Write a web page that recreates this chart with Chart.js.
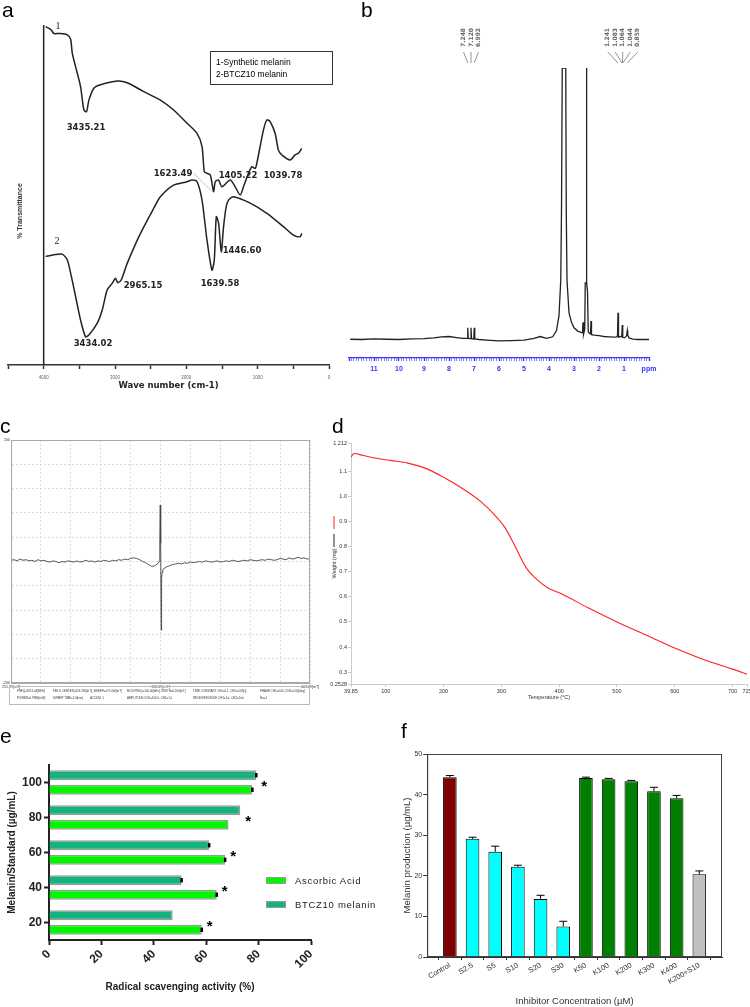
<!DOCTYPE html>
<html>
<head>
<meta charset="utf-8">
<title>Melanin characterisation</title>
<script src="https://cdn.jsdelivr.net/npm/chart.js@4.4.1/dist/chart.umd.min.js"></script>
<style>
  html, body { margin: 0; padding: 0; background: #fff; }
  body { position: relative; width: 750px; height: 1007px; overflow: hidden; font-family: "Liberation Sans", Arial, sans-serif; color: #000; }
  canvas { position: absolute; }
  .tag { position: absolute; font-size: 21px; line-height: 21px; }
  .pk { position: absolute; transform: translate(-50%, -50%); white-space: nowrap; font: bold 8.5px "DejaVu Sans", sans-serif; color: #222; }
  .num { position: absolute; transform: translate(-50%, -50%); font: 10px "Liberation Serif", serif; color: #222; }
  .ftir-legend { position: absolute; left: 210px; top: 51px; width: 123px; height: 34px; border: 1px solid #333; font-size: 8.5px; line-height: 12px; padding: 4px 0 0 5px; box-sizing: border-box; }
  .rot { position: absolute; transform: translate(-50%, -50%) rotate(-90deg); white-space: nowrap; }
  .esr-info { position: absolute; left: 9px; top: 686px; width: 301px; height: 19px; border: 1px solid #bbb; box-sizing: border-box; font-size: 2.9px; line-height: 6px; color: #333; }
  .esr-info span { position: absolute; white-space: nowrap; }
  .leg-e { position: absolute; font-size: 9.5px; letter-spacing: 0.7px; color: #222; }
  .sw { position: absolute; width: 18px; height: 5px; border: 1.5px solid #9a9a9a; }
</style>
</head>
<body>
<canvas id="chart-a" width="345" height="400" style="left:0;top:0"></canvas>
<canvas id="chart-b" width="405" height="400" style="left:345px;top:0"></canvas>
<canvas id="chart-c" width="340" height="310" style="left:0;top:400px"></canvas>
<canvas id="chart-d" width="440" height="310" style="left:320px;top:400px"></canvas>
<canvas id="chart-e" width="375" height="297" style="left:0;top:710px"></canvas>
<canvas id="chart-f" width="375" height="297" style="left:375px;top:710px"></canvas>

<div class="tag" style="left:2px;top:-1px">a</div>
<div class="tag" style="left:361px;top:-1px">b</div>
<div class="tag" style="left:0;top:415px">c</div>
<div class="tag" style="left:332px;top:415px">d</div>
<div class="tag" style="left:0;top:725px">e</div>
<div class="tag" style="left:401px;top:720px">f</div>

<div class="num" style="left:58px;top:25px">1</div>
<div class="num" style="left:57px;top:240px">2</div>
<div class="pk" style="left:86px;top:127px">3435.21</div>
<div class="pk" style="left:173px;top:173px">1623.49</div>
<div class="pk" style="left:238px;top:175px">1405.22</div>
<div class="pk" style="left:283px;top:175px">1039.78</div>
<div class="pk" style="left:242px;top:250px">1446.60</div>
<div class="pk" style="left:143px;top:285px">2965.15</div>
<div class="pk" style="left:220px;top:283px">1639.58</div>
<div class="pk" style="left:93px;top:343px">3434.02</div>
<div class="ftir-legend">1-Synthetic melanin<br>2-BTCZ10 melanin</div>
<div class="rot" style="left:19px;top:211px;font-size:7px;font-weight:bold;color:#333">% Transmittance</div>

<div class="esr-info">
  <span style="left:7px;top:1px">FREQ=9213.04[MHz]</span>
  <span style="left:43px;top:1px">FIELD CENTER=326.290[mT], SWEEP=±75.000[mT]</span>
  <span style="left:117px;top:1px">MOD FREQ=100.00[kHz], WIDTH=0.200[mT]</span>
  <span style="left:183px;top:1px">TIME CONSTANT CH1=0.1, CH2=0.03[s]</span>
  <span style="left:250px;top:1px">PHASE CH1=0.00, CH2=0.00[deg]</span>
  <span style="left:7px;top:8px">POWER=0.9980[mW]</span>
  <span style="left:43px;top:8px">SWEEP TIME=2.0[min]</span>
  <span style="left:80px;top:8px">ACCUM: 1</span>
  <span style="left:117px;top:8px">AMPLITUDE CH1=100.0, CH2=1.0</span>
  <span style="left:183px;top:8px">RECEIVER MODE CH1=1st, CH2=2nd</span>
  <span style="left:250px;top:8px">No=1</span>
</div>

<div class="sw" id="sw-asc" style="left:266px;top:877px"></div>
<div class="leg-e" style="left:295px;top:875px">Ascorbic Acid</div>
<div class="sw" id="sw-btcz" style="left:266px;top:901px"></div>
<div class="leg-e" style="left:295px;top:899px">BTCZ10 melanin</div>

<script>
// a - FTIR (wave number cm-1, % transmittance in arbitrary 0-100 units)
const FTIR_WN_1 = [3972,3902,3856,3786,3669,3622,3599,3552,3483,3436,3399,3366,3296,3203,2969,2829,2597,2364,2178,1990,1850,1780,1748,1711,1664,1618,1594,1548,1501,1385,1315,1245,1199,1129,1082,1035,1012,919,871,825,755,709,662,545,476,429,382];
const FTIR_T_1 = [99.5,98.7,97.5,97.5,97.1,95.8,91.7,87.7,81.9,75.0,74.5,77.9,81.4,82.4,83.5,83.0,80.4,77.9,75.0,71.1,68.1,64.2,56.9,56.4,55.9,51.0,53.9,54.4,52.4,54.4,52.4,50.0,52.4,56.4,58.3,57.8,59.3,69.1,72.1,71.6,68.1,63.2,61.8,60.3,61.8,62.3,63.7];
const FTIR_WN_2 = [3972,3856,3739,3669,3622,3552,3483,3413,3366,3249,3179,3109,3039,2993,2961,2913,2829,2643,2457,2364,2178,1990,1920,1850,1780,1711,1641,1608,1580,1548,1510,1478,1441,1408,1338,1105,871,639,499,406,382];
const FTIR_T_2 = [31.9,32.4,32.6,30.9,27.0,20.1,13.2,8.3,8.8,12.3,16.2,22.1,24.0,25.5,24.2,25.0,29.9,38.7,46.1,49.5,52.9,53.9,54.4,53.9,48.5,36.8,27.9,30.9,43.6,41.7,33.3,40.7,46.6,48.5,49.5,47.6,44.6,40.7,38.2,37.7,38.7];
const FTIR_TICKS = [4500,4000,3500,3000,2500,2000,1500,1000,500,0];

// b - 1H NMR
const NMR_PPM = [11.95,11.5,11,10.5,10,9.5,9,8.6,8.3,8.0,7.7,7.45,7.27,7.25,7.23,7.14,7.12,7.10,7.01,6.99,6.97,6.8,6.5,6.0,5.5,5.0,4.6,4.35,4.1,3.85,3.7,3.6,3.53,3.5,3.47,3.45,3.33,3.31,3.28,3.2,3.1,3.0,2.85,2.72,2.66,2.64,2.62,2.57,2.55,2.51,2.50,2.49,2.46,2.43,2.38,2.34,2.32,2.30,2.2,2.0,1.8,1.6,1.4,1.3,1.26,1.24,1.22,1.15,1.09,1.07,1.05,0.98,0.9,0.87,0.85,0.8,0.65,0.45,0.25,0.0];
const NMR_INT = [0.3,0.2,0.4,0.3,0.2,0.4,0.5,0.8,1.2,1.3,0.9,0.6,0.6,4.5,0.6,0.5,4.5,0.5,0.4,4.5,0.4,0.2,0,-0.3,-0.2,0,0.6,1.3,0.6,1.2,3.5,9,22,48,100,100,100,48,22,10,6.5,4.5,3.3,2.8,2.7,6.5,2,4,21,21,100,21,18,3,2.4,2.3,7,2,1.8,1.6,1.3,1.2,1.1,1.2,1.5,10,1.0,1.3,1.2,5.5,1.0,0.8,1.5,3.5,1.8,0.8,0.3,0.2,0.2,0.2];
const NMR_MAJOR = [11,10,9,8,7,6,5,4,3,2,1];
const NMR_PEAKS_AR = [7.248,7.120,6.992];
const NMR_PEAKS_AL = [1.241,1.083,1.064,1.044,0.859];

// c - ESR
const ESR_FIELD = [0,1,2,3,4,5,6,7,8,9,10,11,12,13,14,15,16,17,18,19,20,21,22,23,24,25,26,27,28,29,30,31,32,33,34,35,36,37,38,39,40,41,42,43,44,45,46,47,48,49,49.5,49.75,49.9,50.05,50.2,50.35,50.5,50.75,51,52,53,54,55,56,57,58,59,60,61,62,63,64,65,66,67,68,69,70,71,72,73,74,75,76,77,78,79,80,81,82,83,84,85,86,87,88,89,90,91,92,93,94,95,96,97,98,99,100];
const ESR_SIGNAL = [2,3,1,4,2,3,1,2,0,3,1,2,0,-1,1,0,-2,0,-1,1,0,-1,1,-1,0,2,0,1,-1,1,0,2,1,0,2,1,3,2,4,3,5,6,5,3,0,-2,-5,-8,-7,-4,0,40,93,30,-113,-30,-18,-14,-12,-9,-7,-5,-4,-3,-4,-2,-3,-1,-2,-1,0,-1,1,0,-1,0,1,-1,0,1,0,2,1,0,1,2,1,3,2,1,2,3,2,4,3,2,3,5,4,3,6,4,5,7,5,6,4,5];
const ESR_X_TICKS = [0,10,20,30,40,50,60,70,80,90,100];
const ESR_X_LABELS = { 0: '251.29[mT]', 50: '326.29[mT]', 100: '401.29[mT]' };
const ESR_Y_TICKS = [-200,-160,-120,-80,-40,0,40,80,120,160,200];

// d - TGA
const TGA_TEMP = [39.85,45,60,81,110,138,168,203,232,266,289,306,323,336,344,358,380,404,450,500,554,600,657,700,725];
const TGA_WEIGHT = [1.156,1.170,1.163,1.152,1.142,1.132,1.112,1.072,1.032,0.976,0.924,0.876,0.804,0.744,0.712,0.676,0.636,0.612,0.556,0.500,0.444,0.396,0.344,0.312,0.292];
const TGA_X_TICKS = [39.85,100,200,300,400,500,600,700,725];
const TGA_Y_TICKS = [0.2528,0.3,0.4,0.5,0.6,0.7,0.8,0.9,1.0,1.1,1.212];
const TGA_Y_LABELS = ['0.2528','0.3','0.4','0.5','0.6','0.7','0.8','0.9','1.0','1.1','1.212'];

// e - DPPH radical scavenging
const E_CONC = ['100','80','60','40','20'];
const E_BTCZ = [79.1,73.0,61.1,50.6,47.2];
const E_ASC = [77.6,68.5,67.2,64.0,58.3];
const E_BTCZ_ERR = [0.5,0,0.5,0.5,0];
const E_ASC_ERR = [0.5,0,0.5,0.5,0.5];
const E_TICKS = [0,20,40,60,80,100];

// f - melanin production with inhibitors
const F_CATS = ['Control','S2.5','S5','S10','S20','S30','K50','K100','K200','K300','K400','K200+S10'];
const F_MEAN = [44.3,29.1,25.9,22.2,14.3,7.5,44.1,43.8,43.3,40.8,39.1,20.4];
const F_ERR = [0.4,0.4,1.4,0.4,0.9,1.3,0.2,0.2,0.2,1.0,0.7,0.8];

const COL = {
  maroon: '#7f0000', cyan: '#00ffff', kgreen: '#007f00', grey: '#c0c0c0',
  asc: '#00f700', btcz: '#13b27f', barEdge: '#9a9a9a', nmr: '#3333ff', tga: '#ff2020',
};
const F_COLORS = [COL.maroon, COL.cyan, COL.cyan, COL.cyan, COL.cyan, COL.cyan,
  COL.kgreen, COL.kgreen, COL.kgreen, COL.kgreen, COL.kgreen, COL.grey];

document.getElementById('sw-asc').style.background = COL.asc;
document.getElementById('sw-btcz').style.background = COL.btcz;

Chart.defaults.font.family = '"Liberation Sans", Arial, sans-serif';
Chart.defaults.color = '#000';
Chart.defaults.animation = false;
Chart.defaults.responsive = false;
Chart.defaults.plugins.legend.display = false;
Chart.defaults.plugins.tooltip.enabled = false;

const pts = (xs, ys) => xs.map((x, i) => ({ x, y: ys[i] }));
const fixTicks = list => scale => { scale.ticks = list.map(v => ({ value: v })); };

// ---------- a ----------
const ftirExtras = {
  id: 'ftirExtras',
  afterDatasetsDraw(chart) {
    const { ctx, chartArea, scales: { x, y } } = chart;
    const x0 = x.getPixelForValue(4000);
    ctx.save();
    ctx.strokeStyle = '#222';
    ctx.lineWidth = 1.5;
    ctx.beginPath(); ctx.moveTo(x0, chartArea.top); ctx.lineTo(x0, chartArea.bottom); ctx.stroke();
    ctx.strokeStyle = '#aaa';
    ctx.lineWidth = 0.7;
    ctx.beginPath();
    ctx.moveTo(x.getPixelForValue(1900), y.getPixelForValue(56.5));
    ctx.lineTo(x.getPixelForValue(1640), y.getPixelForValue(51));
    ctx.stroke();
    ctx.restore();
  }
};

new Chart(document.getElementById('chart-a'), {
  type: 'line',
  data: {
    datasets: [
      { data: pts(FTIR_WN_1, FTIR_T_1), borderColor: '#222', borderWidth: 1.5, pointRadius: 0, tension: 0.25 },
      { data: pts(FTIR_WN_2, FTIR_T_2), borderColor: '#222', borderWidth: 1.5, pointRadius: 0, tension: 0.25 },
    ]
  },
  options: {
    layout: { padding: { left: 8, right: 16, top: 25, bottom: 0 } },
    scales: {
      x: {
        type: 'linear', reverse: true, min: 0, max: 4500,
        afterBuildTicks: fixTicks(FTIR_TICKS),
        afterFit: s => { s.height = 35; },
        ticks: { callback: v => (v % 1000 === 0 ? String(v) : ''), font: { size: 4.5 }, color: '#666', maxRotation: 0, autoSkip: false, padding: 6 },
        grid: { drawOnChartArea: false, tickLength: 4, tickColor: '#333', tickWidth: 1.5 },
        border: { color: '#333', width: 1.5 },
        title: { display: true, text: 'Wave number (cm-1)', color: '#222', font: { family: '"DejaVu Sans"', size: 8.5, weight: 'bold' }, padding: { top: 0, bottom: 9 } },
      },
      y: { display: false, min: 0, max: 100 },
    }
  },
  plugins: [ftirExtras],
});

// ---------- b ----------
const nmrLabels = {
  id: 'nmrLabels',
  afterDraw(chart) {
    const { ctx, scales: { x } } = chart;
    ctx.save();
    ctx.fillStyle = '#666';
    ctx.strokeStyle = '#777';
    ctx.lineWidth = 0.8;
    ctx.font = 'bold 6px "DejaVu Sans"';
    [NMR_PEAKS_AR, NMR_PEAKS_AL].forEach(group => {
      const xs = group.map(p => x.getPixelForValue(p));
      const mid = (xs[0] + xs[xs.length - 1]) / 2;
      group.forEach((p, i) => {
        const lx = mid + (i - (group.length - 1) / 2) * 7.5;
        ctx.beginPath(); ctx.moveTo(lx, 52); ctx.lineTo(xs[i], 63); ctx.stroke();
        ctx.save();
        ctx.translate(lx, 47);
        ctx.rotate(-Math.PI / 2);
        ctx.textAlign = 'left';
        ctx.textBaseline = 'middle';
        ctx.fillText(p.toFixed(3), 0, 0);
        ctx.restore();
      });
    });
    ctx.restore();
  }
};

const nmrTicks = [];
for (let t = 0; t <= 120; t++) nmrTicks.push(t / 10);

new Chart(document.getElementById('chart-b'), {
  type: 'line',
  data: { datasets: [{ data: pts(NMR_PPM, NMR_INT), borderColor: '#222', borderWidth: 1.3, pointRadius: 0, tension: 0 }] },
  options: {
    layout: { padding: { left: 4, right: 101, top: 68, bottom: 0 } },
    scales: {
      x: {
        type: 'linear', reverse: true, min: 0, max: 12,
        afterBuildTicks: fixTicks(nmrTicks),
        afterFit: s => { s.height = 42; },
        ticks: {
          autoSkip: false, maxRotation: 0, padding: 4, color: COL.nmr,
          font: { size: 7, weight: 'bold' },
          callback: v => {
            if (Math.abs(v) < 1e-6) return 'ppm';
            const r = Math.round(v);
            return Math.abs(v - r) < 1e-6 && NMR_MAJOR.includes(r) ? String(r) : '';
          }
        },
        grid: {
          drawOnChartArea: false, tickLength: 3, tickColor: COL.nmr,
          tickWidth: c => (Math.abs(c.tick.value - Math.round(c.tick.value)) < 1e-6 ? 1.4 : 0.6),
        },
        border: { color: COL.nmr, width: 1.2 },
      },
      y: { display: false, min: -6.6, max: 100 },
    }
  },
  plugins: [nmrLabels],
});

// ---------- c ----------
const frame = color => ({
  id: 'frame',
  afterDraw(chart) {
    const { ctx, chartArea: a } = chart;
    ctx.save();
    ctx.strokeStyle = color;
    ctx.lineWidth = 1;
    ctx.strokeRect(a.left + 0.5, a.top + 0.5, a.width - 1, a.height - 1);
    ctx.restore();
  }
});

new Chart(document.getElementById('chart-c'), {
  type: 'line',
  data: { datasets: [{ data: pts(ESR_FIELD, ESR_SIGNAL), borderColor: '#444', borderWidth: 0.9, pointRadius: 0, tension: 0 }] },
  options: {
    layout: { padding: { left: 0, right: 30, top: 40, bottom: 0 } },
    scales: {
      x: {
        type: 'linear', min: 0, max: 100,
        afterBuildTicks: fixTicks(ESR_X_TICKS),
        afterFit: s => { s.height = 27; },
        ticks: { autoSkip: false, maxRotation: 0, padding: 2, font: { size: 3.6 }, color: '#333', callback: v => ESR_X_LABELS[v] || '' },
        grid: { color: '#cfcfcf', lineWidth: 0.7, drawTicks: false },
        border: { color: '#aaa', dash: [2, 2] },
      },
      y: {
        min: -200, max: 200,
        afterBuildTicks: fixTicks(ESR_Y_TICKS),
        afterFit: s => { s.width = 9; },
        ticks: { autoSkip: false, padding: 1, font: { size: 3.6 }, color: '#333', callback: v => (Math.abs(v) === 200 ? String(v) : '') },
        grid: { color: '#cfcfcf', lineWidth: 0.7, drawTicks: false },
        border: { color: '#aaa', dash: [2, 2] },
      },
    }
  },
  plugins: [frame('#aaa')],
});

// ---------- d ----------
const tgaKey = {
  id: 'tgaKey',
  afterDraw(chart) {
    const { ctx } = chart;
    ctx.save();
    ctx.lineWidth = 1;
    ctx.strokeStyle = COL.tga;
    ctx.beginPath(); ctx.moveTo(14, 116); ctx.lineTo(14, 129); ctx.stroke();
    ctx.strokeStyle = '#222';
    ctx.beginPath(); ctx.moveTo(14, 134); ctx.lineTo(14, 147); ctx.stroke();
    ctx.restore();
  }
};

new Chart(document.getElementById('chart-d'), {
  type: 'line',
  data: { datasets: [{ data: pts(TGA_TEMP, TGA_WEIGHT), borderColor: COL.tga, borderWidth: 1.1, pointRadius: 0, cubicInterpolationMode: 'monotone' }] },
  options: {
    layout: { padding: { left: 0, right: 13, top: 43, bottom: 0 } },
    scales: {
      x: {
        type: 'linear', min: 39.85, max: 725,
        afterBuildTicks: fixTicks(TGA_X_TICKS),
        afterFit: s => { s.height = 26; },
        ticks: { autoSkip: false, maxRotation: 0, padding: 1, font: { size: 5.5 }, color: '#333', callback: v => String(v) },
        grid: { drawOnChartArea: false, tickLength: 3, tickColor: '#ccc' },
        border: { color: '#ccc' },
        title: { display: true, text: 'Temperature (°C)', font: { size: 5.5 }, color: '#333', padding: { top: 0, bottom: 9.5 } },
      },
      y: {
        min: 0.2528, max: 1.212,
        afterBuildTicks: fixTicks(TGA_Y_TICKS),
        afterFit: s => { s.width = 31; },
        ticks: { autoSkip: false, padding: 1, font: { size: 5.5 }, color: '#333', callback: (v, i) => TGA_Y_LABELS[i] },
        grid: { drawOnChartArea: false, tickLength: 3, tickColor: '#ccc' },
        border: { color: '#ccc' },
        title: { display: true, text: 'Weight (mg)', font: { size: 5.5 }, color: '#333', padding: { top: 11, bottom: 0 } },
      },
    }
  },
  plugins: [tgaKey],
});

// ---------- e ----------
const errorBars = (errs, horizontal, cap) => ({
  id: 'errorBars',
  afterDatasetsDraw(chart) {
    const { ctx } = chart;
    const vs = horizontal ? chart.scales.x : chart.scales.y;
    ctx.save();
    ctx.strokeStyle = '#000';
    errs.forEach((arr, di) => {
      if (!arr) return;
      const ds = chart.data.datasets[di];
      chart.getDatasetMeta(di).data.forEach((bar, i) => {
        const e = arr[i];
        if (!e) return;
        const raw = ds.data[i];
        const v = typeof raw === 'object' ? raw.y : raw;
        ctx.beginPath();
        if (horizontal) {
          // short, heavy whisker: reads as a black nub at the bar end
          ctx.lineWidth = cap * 2;
          ctx.moveTo(vs.getPixelForValue(v - e), bar.y);
          ctx.lineTo(vs.getPixelForValue(v + e), bar.y);
        } else {
          const top = vs.getPixelForValue(v + e);
          ctx.lineWidth = 1;
          ctx.moveTo(bar.x, bar.y); ctx.lineTo(bar.x, top);
          ctx.moveTo(bar.x - cap, top); ctx.lineTo(bar.x + cap, top);
        }
        ctx.stroke();
      });
    });
    ctx.restore();
  }
});

const stars = {
  id: 'stars',
  afterDatasetsDraw(chart) {
    const { ctx, scales: { x, y } } = chart;
    ctx.save();
    ctx.font = 'bold 15px "Liberation Sans"';
    ctx.textAlign = 'center';
    ctx.textBaseline = 'middle';
    E_CONC.forEach((c, i) => {
      const px = x.getPixelForValue(Math.max(E_BTCZ[i], E_ASC[i])) + 8;
      ctx.fillText('*', px, y.getPixelForValue(i) + 4);
    });
    ctx.restore();
  }
};

new Chart(document.getElementById('chart-e'), {
  type: 'bar',
  data: {
    labels: E_CONC,
    datasets: [
      { label: 'BTCZ10 melanin', data: E_BTCZ, backgroundColor: COL.btcz, borderColor: COL.barEdge, borderWidth: 1.5 },
      { label: 'Ascorbic Acid', data: E_ASC, backgroundColor: COL.asc, borderColor: COL.barEdge, borderWidth: 1.5 },
    ]
  },
  options: {
    indexAxis: 'y',
    categoryPercentage: 0.83,
    barPercentage: 0.68,
    layout: { padding: { left: 0, right: 64, top: 55, bottom: 0 } },
    scales: {
      x: {
        min: 0, max: 100,
        afterBuildTicks: fixTicks(E_TICKS),
        afterFit: s => { s.height = 67; },
        ticks: { autoSkip: false, minRotation: 45, maxRotation: 45, padding: 2, font: { size: 12, weight: 'bold' }, color: '#222' },
        grid: { drawOnChartArea: false, tickLength: 5, tickColor: '#222', tickWidth: 2 },
        border: { color: '#222', width: 2 },
        title: { display: true, text: 'Radical scavenging activity (%)', color: '#222', font: { size: 10, weight: 'bold' }, padding: { top: 0, bottom: 14 } },
      },
      y: {
        afterFit: s => { s.width = 49; },
        ticks: { padding: 2, font: { size: 12, weight: 'bold' }, color: '#222' },
        grid: { drawOnChartArea: false, offset: false, tickLength: 5, tickColor: '#222', tickWidth: 2 },
        border: { color: '#222', width: 2 },
        title: { display: true, text: 'Melanin/Standard (µg/mL)', color: '#222', font: { size: 10, weight: 'bold' }, padding: { top: 6, bottom: 0 } },
      },
    }
  },
  plugins: [errorBars([E_BTCZ_ERR, E_ASC_ERR], true, 2.2), stars],
});

// ---------- f ----------
new Chart(document.getElementById('chart-f'), {
  type: 'bar',
  data: {
    datasets: [{
      data: F_MEAN.map((v, i) => ({ x: i, y: v })),
      backgroundColor: F_COLORS, borderColor: '#000', borderWidth: 1,
    }]
  },
  options: {
    categoryPercentage: 1,
    barPercentage: 0.6,
    layout: { padding: { left: 0, right: 28, top: 44, bottom: 0 } },
    scales: {
      x: {
        type: 'linear', min: -1, max: 12, offset: false,
        afterBuildTicks: fixTicks(F_CATS.map((c, i) => i)),
        afterFit: s => { s.height = 50; },
        ticks: { autoSkip: false, minRotation: 30, maxRotation: 30, padding: 1, font: { size: 7.5 }, color: '#333', callback: v => F_CATS[v] ?? '' },
        grid: { drawOnChartArea: false, tickLength: 3, tickColor: '#333' },
        border: { color: '#333' },
        title: { display: true, text: 'Inhibitor Concentration (µM)', color: '#333', font: { size: 9.5 }, padding: { top: 0, bottom: 0 } },
      },
      y: {
        min: 0, max: 50,
        ticks: { stepSize: 10, padding: 1, font: { size: 7 }, color: '#333' },
        grid: { drawOnChartArea: false, tickLength: 4, tickColor: '#333' },
        border: { color: '#333' },
        title: { display: true, text: 'Melanin production (µg/mL)', color: '#333', font: { size: 9.5 }, padding: { top: 27, bottom: 0 } },
      },
    }
  },
  plugins: [errorBars([F_ERR], false, 4), frame('#444')],
});
</script>
</body>
</html>
